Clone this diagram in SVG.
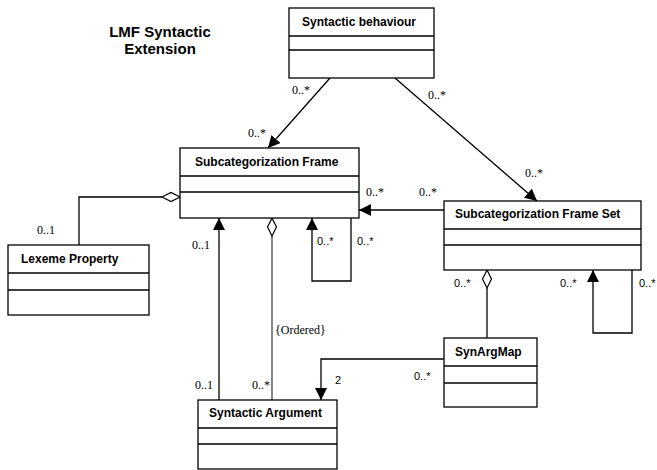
<svg xmlns="http://www.w3.org/2000/svg" width="657" height="470" viewBox="0 0 657 470">
<style>
.box{fill:#fff;stroke:#000;stroke-width:1.3}
.div{stroke:#000;stroke-width:1.3}
.t{font-family:"Liberation Sans",Arial,sans-serif;font-weight:bold;font-size:12px;fill:#000}
.ttl{font-family:"Liberation Sans",Arial,sans-serif;font-weight:bold;font-size:15px;fill:#000;text-anchor:middle}
.m{font-family:"Liberation Serif","Times New Roman",serif;font-size:12px;fill:#000}
.ms{font-family:"Liberation Sans",Arial,sans-serif;font-size:11px;fill:#000}
.c{fill:none;stroke:#000;stroke-width:1.3}
.d{fill:#fff;stroke:#000;stroke-width:1.2}
</style>
<defs>
<marker id="arr" viewBox="0 0 12 12" refX="12" refY="6" markerWidth="12" markerHeight="12" markerUnits="userSpaceOnUse" orient="auto"><path d="M0,0 L12,6 L0,12 Z" fill="#000"/></marker>
</defs>
<rect width="657" height="470" fill="#fff"/>
<text class="ttl" x="160" y="37">LMF Syntactic</text>
<text class="ttl" x="160" y="54">Extension</text>
<g id="connectors">
<line class="c" x1="330" y1="78" x2="268" y2="148" marker-end="url(#arr)"/>
<line class="c" x1="395" y1="78" x2="537" y2="201" marker-end="url(#arr)"/>
<line class="c" x1="444" y1="210" x2="359" y2="210" marker-end="url(#arr)"/>
<polyline class="c" points="351,218 351,281 312,281 312,218" marker-end="url(#arr)"/>
<polyline class="c" points="79,245 79,197 162,197"/>
<path class="d" d="M180,197 L171,192.5 L162,197 L171,201.5 Z"/>
<line class="c" x1="219" y1="400" x2="219" y2="218" marker-end="url(#arr)"/>
<line class="c" x1="272" y1="400" x2="272" y2="236" style="stroke:#444"/>
<path class="d" d="M272,218 L276.5,227 L272,236 L267.5,227 Z"/>
<line class="c" x1="487" y1="338" x2="487" y2="288"/>
<path class="d" d="M487,270 L491.5,279 L487,288 L482.5,279 Z"/>
<polyline class="c" points="632,270 632,333 593,333 593,270" marker-end="url(#arr)"/>
<polyline class="c" points="444,359 321,359 321,400" marker-end="url(#arr)"/>
</g>
<g id="syntactic-behaviour">
<rect class="box" x="289" y="8" width="145" height="70"/>
<line class="div" x1="289" y1="36" x2="434" y2="36"/>
<line class="div" x1="289" y1="50" x2="434" y2="50"/>
<text class="t" x="302" y="26">Syntactic behaviour</text>
</g>
<g id="subcategorization-frame">
<rect class="box" x="180" y="148" width="179" height="70"/>
<line class="div" x1="180" y1="176" x2="359" y2="176"/>
<line class="div" x1="180" y1="192" x2="359" y2="192"/>
<text class="t" x="195" y="166">Subcategorization Frame</text>
</g>
<g id="subcategorization-frame-set">
<rect class="box" x="444" y="201" width="197" height="69"/>
<line class="div" x1="444" y1="229" x2="641" y2="229"/>
<line class="div" x1="444" y1="245" x2="641" y2="245"/>
<text class="t" x="455" y="218">Subcategorization Frame Set</text>
</g>
<g id="lexeme-property">
<rect class="box" x="8" y="245" width="141" height="70"/>
<line class="div" x1="8" y1="273" x2="149" y2="273"/>
<line class="div" x1="8" y1="290" x2="149" y2="290"/>
<text class="t" x="21" y="263">Lexeme Property</text>
</g>
<g id="syntactic-argument">
<rect class="box" x="198" y="400" width="139" height="69"/>
<line class="div" x1="198" y1="428" x2="337" y2="428"/>
<line class="div" x1="198" y1="444" x2="337" y2="444"/>
<text class="t" x="209" y="417">Syntactic Argument</text>
</g>
<g id="synargmap">
<rect class="box" x="444" y="338" width="93" height="69"/>
<line class="div" x1="444" y1="366" x2="537" y2="366"/>
<line class="div" x1="444" y1="383" x2="537" y2="383"/>
<text class="t" x="455" y="356">SynArgMap</text>
</g>
<g id="labels">
<text class="m" x="292" y="94">0..*</text>
<text class="m" x="248" y="137">0..*</text>
<text class="m" x="428" y="99">0..*</text>
<text class="m" x="525" y="177">0..*</text>
<text class="m" x="366" y="196">0..*</text>
<text class="m" x="419" y="196">0..*</text>
<text class="m" x="37" y="234">0..1</text>
<text class="m" x="192" y="249">0..1</text>
<text class="ms" x="317" y="245">0..*</text>
<text class="ms" x="357" y="245">0..*</text>
<text class="m" x="275" y="334">{Ordered}</text>
<text class="m" x="195" y="389">0..1</text>
<text class="m" x="252" y="389">0..*</text>
<text class="ms" x="335" y="384">2</text>
<text class="ms" x="414" y="380">0..*</text>
<text class="ms" x="454" y="287">0..*</text>
<text class="ms" x="560" y="287">0..*</text>
<text class="ms" x="639" y="287">0..*</text>
</g>
</svg>
